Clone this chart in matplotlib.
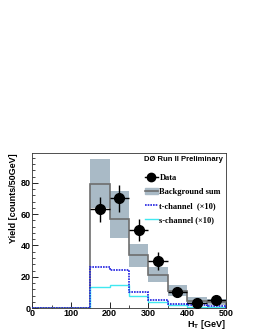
import numpy as np
import matplotlib
matplotlib.use("Agg")
import matplotlib.pyplot as plt
from matplotlib.patches import Patch
from matplotlib.lines import Line2D

# bin edges in H_T [GeV]
edges = [0, 50, 100, 150, 200, 250, 300, 350, 400, 450, 500]

# background sum with uncertainty band
bkg = [0, 0, 0, 79.5, 57, 34, 21, 11, 4.5, 3.6]
bkg_lo = [0, 0, 0, 64, 45, 26.5, 16.4, 7.5, 2.8, 2.2]
bkg_hi = [0, 0, 0, 95.5, 74.6, 41, 26, 14.5, 7, 6]

# signal templates (x10)
tchan = [0, 0, 0, 26, 24.5, 10.4, 5.3, 2.6, 1.7, 1.5]
schan = [0, 0, 0, 13.2, 15, 7.5, 3.8, 1.7, 1.0, 1.0]

# data
data_x = [175, 225, 275, 325, 375, 425, 475]
data_y = [63, 70, 50, 30, 10, 3, 5]
data_err = [8, 8.4, 7.1, 5.5, 3.2, 1.7, 2.2]

sans = "Liberation Sans"
serif = "Liberation Serif"

fig = plt.figure(figsize=(2.57, 3.32), dpi=100)
ax = fig.add_axes([0.125, 0.072, 0.754, 0.467])

band_col = "#a9bac6"
line_col = "#6e6e6e"

# uncertainty band
for i in range(len(bkg)):
    if bkg_hi[i] > 0:
        ax.fill_between([edges[i], edges[i + 1]], bkg_lo[i], bkg_hi[i],
                        color=band_col, lw=0, zorder=1)

ax.stairs(bkg, edges, color=line_col, lw=1.2, zorder=2)
ax.stairs(schan, edges, color="#40e8f0", lw=1.0, zorder=3)
ax.stairs(tchan, edges, color="#2020e0", lw=1.2, ls=(0, (1, 0.6)), zorder=4)

ax.errorbar(data_x, data_y, yerr=data_err, xerr=25, fmt="o", color="black",
            ms=7, elinewidth=1.0, capsize=0, zorder=5)

ax.set_xlim(0, 500)
ax.set_ylim(0, 99)
ax.set_xticks([0, 100, 200, 300, 400, 500])
ax.set_xticks(np.arange(0, 501, 50), minor=True)
ax.set_yticks([0, 20, 40, 60, 80])
ax.set_yticks(np.arange(0, 99, 4), minor=True)
ax.tick_params(which="both", direction="in", top=False, right=False,
               labelsize=6.5, pad=1)
ax.tick_params(which="major", length=4, width=0.6)
ax.tick_params(which="minor", length=2, width=0.5)
for lab in ax.get_xticklabels() + ax.get_yticklabels():
    lab.set_fontfamily(sans)
    lab.set_fontweight("bold")
for s in ax.spines.values():
    s.set_linewidth(0.6)
    s.set_color("#333333")

ax.set_xlabel("H$_\\mathregular{T}$ [GeV]", fontfamily=sans, fontweight="bold",
              fontsize=6.5, loc="right", labelpad=0)
ax.set_ylabel("Yield [counts/50GeV]", fontfamily=sans, fontweight="bold",
              fontsize=6.5, loc="top", labelpad=2)

ax.text(0.985, 0.98, "DØ Run II Preliminary", transform=ax.transAxes,
        ha="right", va="top", fontfamily=sans, fontweight="bold", fontsize=5.5)

handles = [
    Line2D([], [], color="black", marker="o", ms=6, lw=1),
    (Patch(color=band_col), Line2D([], [], color=line_col, lw=1.2)),
    Line2D([], [], color="#2020e0", lw=1.2, ls=(0, (1, 0.6))),
    Line2D([], [], color="#40e8f0", lw=1.0),
]
labels = ["Data", "Background sum", "t-channel  (×10)", "s-channel (×10)"]
ax.legend(handles, labels, loc="upper right", bbox_to_anchor=(1.0, 0.9),
          frameon=False, prop={"family": serif, "weight": "bold", "size": 6},
          handlelength=1.5, handletextpad=0.2, labelspacing=0.75,
          borderaxespad=0.2)

fig.savefig("out.png", dpi=100)
